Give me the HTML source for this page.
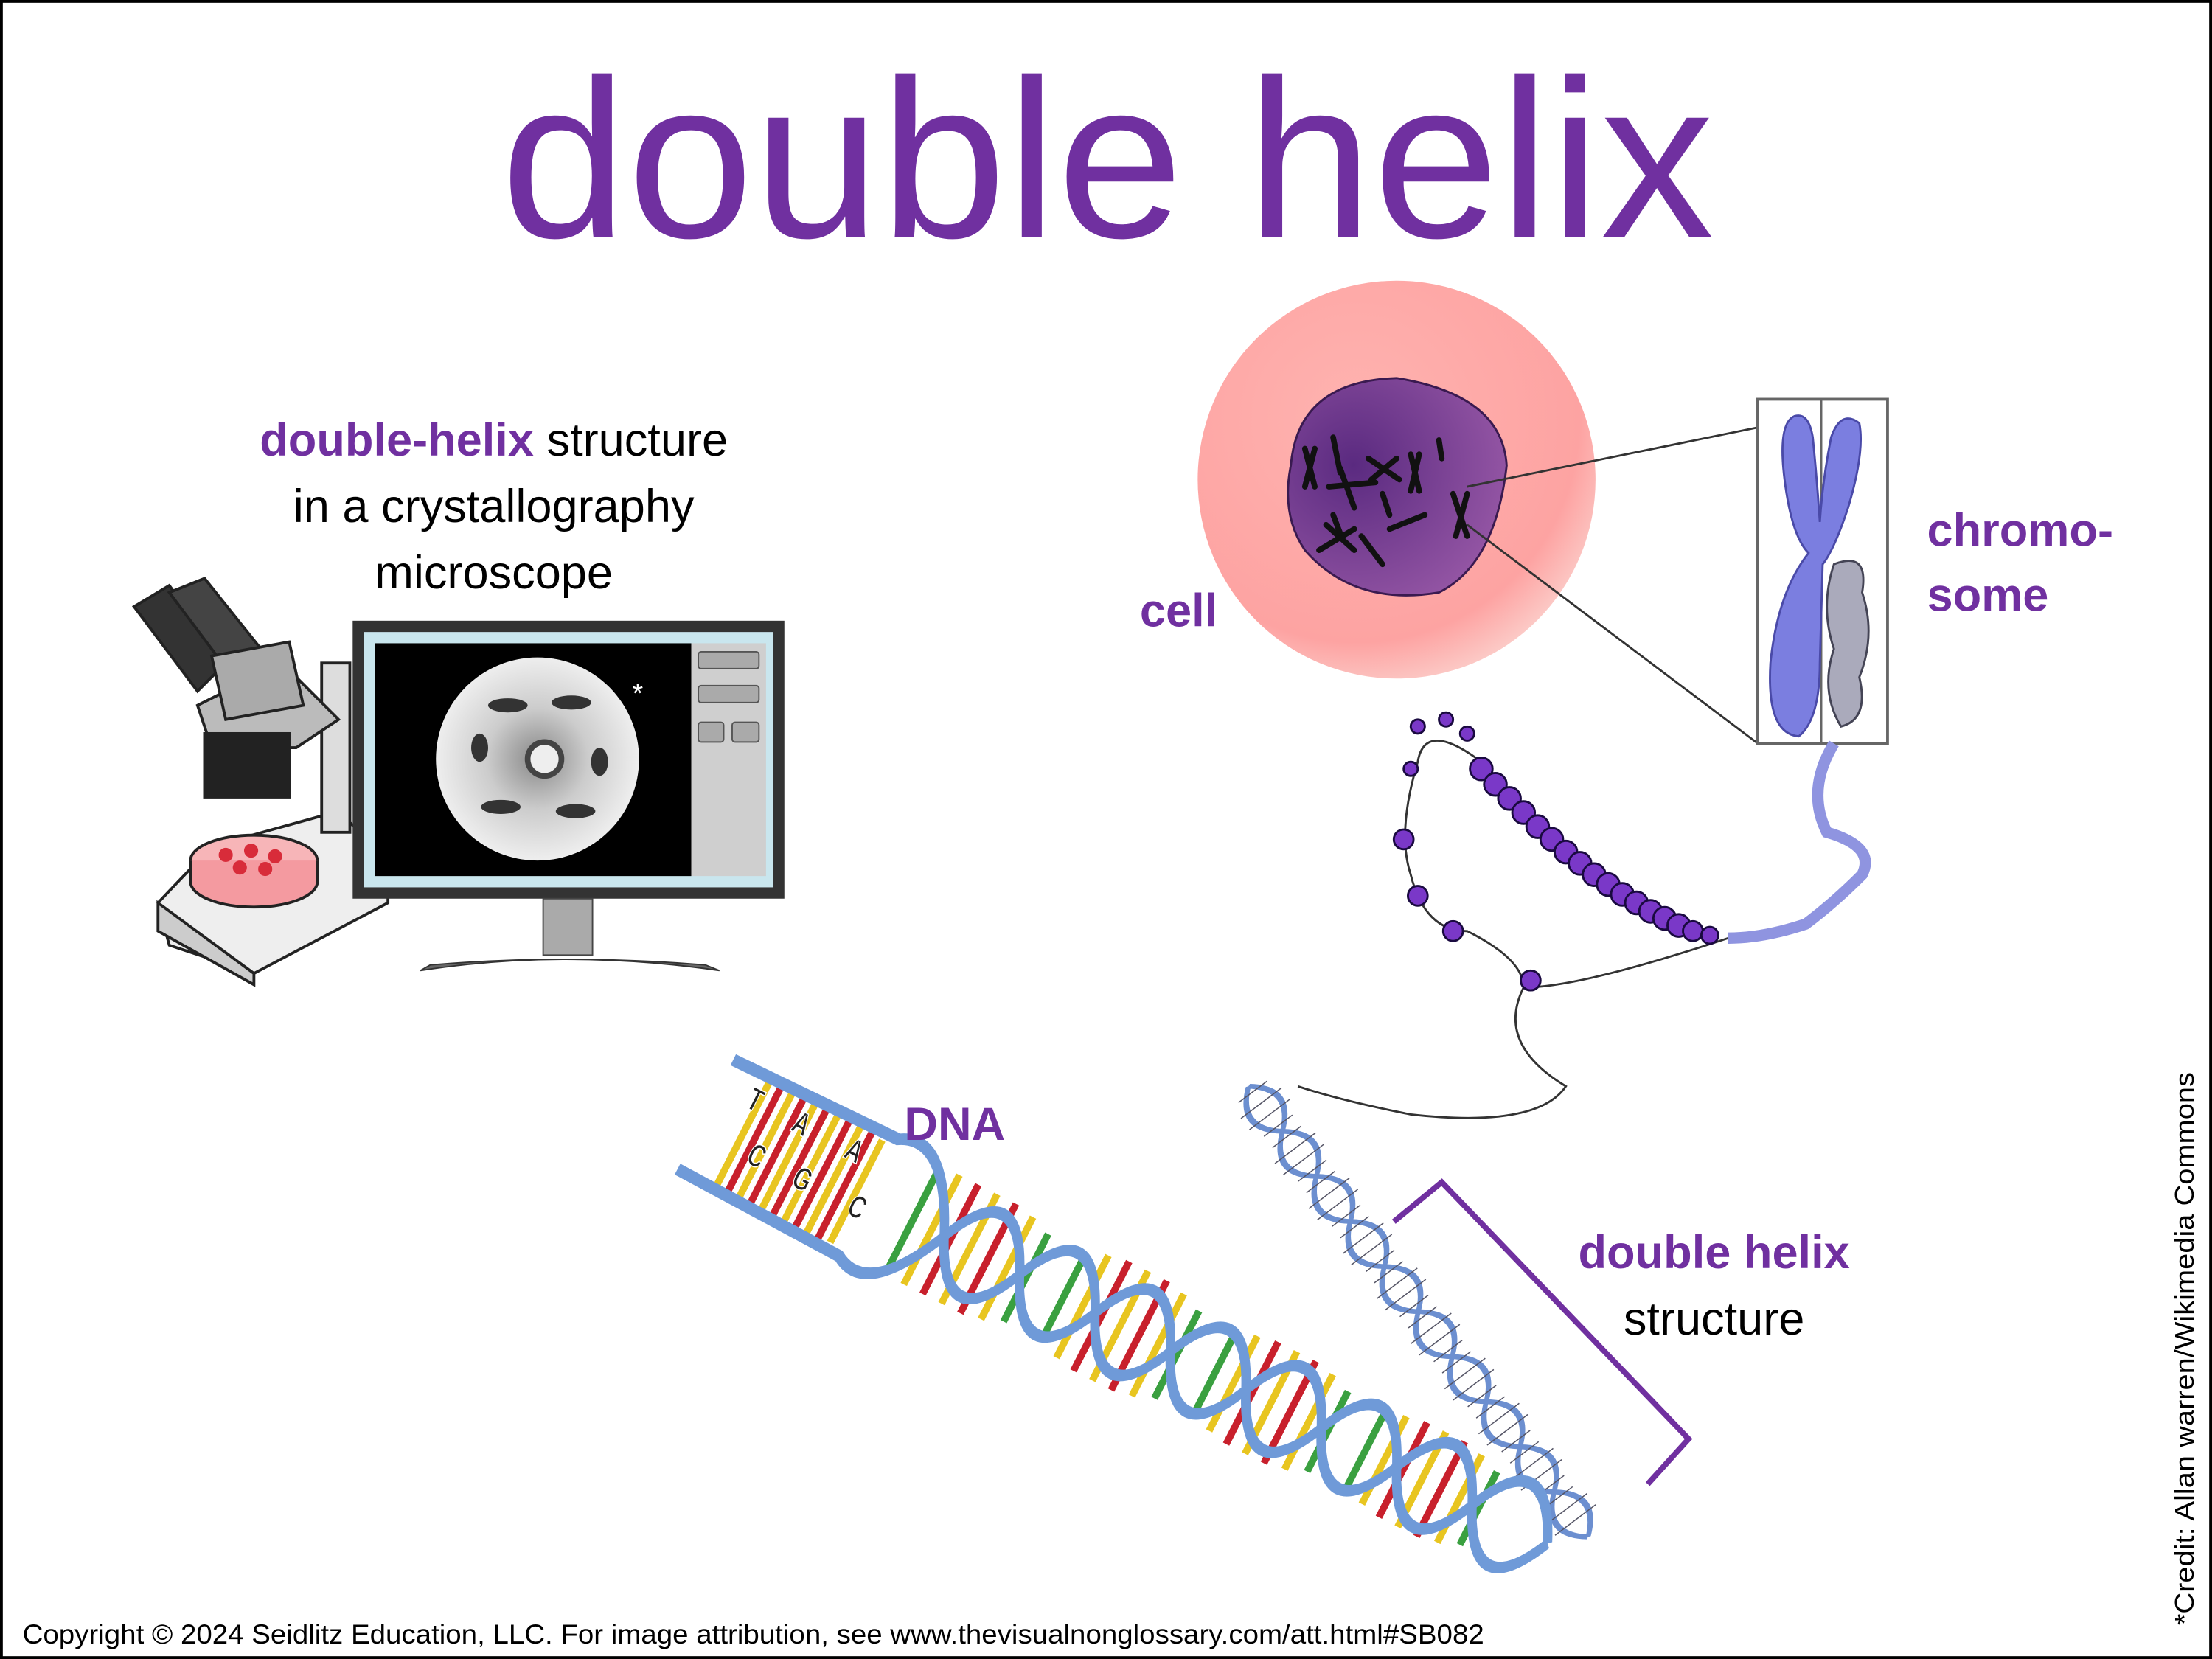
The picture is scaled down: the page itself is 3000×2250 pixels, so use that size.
<!DOCTYPE html>
<html><head><meta charset="utf-8"><style>
html,body{margin:0;padding:0;background:#fff}
svg{display:block}
text{font-family:"Liberation Sans",sans-serif}
</style></head><body>
<svg width="3000" height="2250" viewBox="0 0 1568 1176" xmlns="http://www.w3.org/2000/svg">
<defs>
<radialGradient id="cellg" cx="0.4" cy="0.35" r="0.7">
<stop offset="0" stop-color="#ffb3b0"/><stop offset="0.8" stop-color="#fda3a2"/><stop offset="1" stop-color="#fcd0cc"/></radialGradient>
<radialGradient id="nucg" cx="0.3" cy="0.4" r="0.8">
<stop offset="0" stop-color="#5a2a80"/><stop offset="1" stop-color="#9a5aa8"/></radialGradient>
<radialGradient id="xr" cx="0.5" cy="0.5" r="0.5">
<stop offset="0" stop-color="#888"/><stop offset="0.5" stop-color="#ccc"/><stop offset="1" stop-color="#eee"/></radialGradient>
</defs>
<rect x="1" y="1" width="1566" height="1174" fill="#fff" stroke="#000" stroke-width="2"/>

<text x="785" y="168" font-size="160" fill="#7030A0" text-anchor="middle" textLength="860" lengthAdjust="spacingAndGlyphs">double helix</text>

<text x="350" y="323" font-size="33" text-anchor="middle"><tspan fill="#7030A0" font-weight="bold">double-helix</tspan> structure</text>
<text x="350" y="370" font-size="33" text-anchor="middle">in a crystallography</text>
<text x="350" y="417" font-size="33" text-anchor="middle">microscope</text>

<!-- microscope -->
<g stroke="#222" stroke-width="2">
<path d="M112 640 L150 600 L240 575 L275 610 L275 640 L180 690 L120 670 Z" fill="#eee"/>
<path d="M112 640 L180 690 L180 698 L112 660 Z" fill="#ccc"/>
<rect x="228" y="470" width="20" height="120" fill="#ddd"/>
<path d="M140 500 L200 470 L240 510 L210 530 L150 530 Z" fill="#bbb"/>
<rect x="145" y="520" width="60" height="45" fill="#222"/>
<path d="M95 430 L120 415 L160 470 L140 490 Z" fill="#333"/>
<path d="M120 420 L145 410 L185 460 L165 480 Z" fill="#444"/>
<path d="M150 465 L205 455 L215 500 L160 510 Z" fill="#aaa"/>
<ellipse cx="180" cy="610" rx="45" ry="18" fill="#f7b5b8"/>
<path d="M135 610 L135 625 A45 18 0 0 0 225 625 L225 610" fill="#f49aa0"/>
</g>
<g fill="#d82c3a"><circle cx="160" cy="606" r="5"/><circle cx="178" cy="603" r="5"/><circle cx="195" cy="607" r="5"/><circle cx="170" cy="615" r="5"/><circle cx="188" cy="616" r="5"/></g>

<!-- monitor -->
<rect x="250" y="440" width="306" height="197" fill="#333"/>
<rect x="258" y="448" width="290" height="181" fill="#c9e6ee"/>
<rect x="266" y="456" width="224" height="165" fill="#000"/>
<rect x="490" y="456" width="53" height="165" fill="#cfcfcf"/>
<rect x="495" y="462" width="43" height="12" rx="2" fill="#aaa" stroke="#555"/>
<rect x="495" y="486" width="43" height="12" rx="2" fill="#aaa" stroke="#555"/>
<rect x="495" y="512" width="18" height="14" rx="2" fill="#aaa" stroke="#555"/>
<rect x="519" y="512" width="19" height="14" rx="2" fill="#aaa" stroke="#555"/>
<circle cx="381" cy="538" r="72" fill="url(#xr)"/>
<g fill="#333"><ellipse cx="360" cy="500" rx="14" ry="5"/><ellipse cx="405" cy="498" rx="14" ry="5"/><ellipse cx="355" cy="572" rx="14" ry="5"/><ellipse cx="408" cy="575" rx="14" ry="5"/><ellipse cx="340" cy="530" rx="6" ry="10"/><ellipse cx="425" cy="540" rx="6" ry="10"/></g>
<circle cx="386" cy="538" r="12" fill="#eee" stroke="#444" stroke-width="4"/>
<text x="452" y="498" font-size="20" fill="#fff" text-anchor="middle">*</text>
<path d="M385 637 L420 637 L420 677 L385 677 Z" fill="#aaa" stroke="#444"/>
<path d="M298 688 Q400 672 510 688 L500 684 Q400 676 305 684 Z" fill="#666" stroke="#333"/>

<!-- cell -->
<circle cx="990" cy="340" r="141" fill="url(#cellg)"/>
<path d="M915 330 Q920 270 990 268 Q1065 280 1068 330 Q1060 400 1020 420 Q960 430 925 390 Q908 365 915 330 Z" fill="url(#nucg)" stroke="#3a1a50" stroke-width="1.5"/>
<g stroke="#111" stroke-width="4" stroke-linecap="round">
<path d="M925 318 L932 345 M932 318 L925 345"/><path d="M945 310 L950 335"/><path d="M942 345 L975 342"/><path d="M950 332 L960 360"/>
<path d="M970 325 L992 340 M972 340 L990 325"/><path d="M1000 322 L1006 348 M1006 322 L1000 348"/><path d="M1020 312 L1022 325"/>
<path d="M935 390 L960 375 M960 390 L940 372"/><path d="M965 380 L980 400"/><path d="M985 375 L1010 365"/><path d="M1030 350 L1040 380 M1040 350 L1032 380"/>
<path d="M980 350 L985 365"/><path d="M945 365 L950 378"/>
</g>
<text x="808" y="444" font-size="33" font-weight="bold" fill="#7030A0">cell</text>

<!-- chromosome box -->
<line x1="1040" y1="345" x2="1246" y2="303" stroke="#333" stroke-width="1.5"/>
<line x1="1040" y1="372" x2="1246" y2="527" stroke="#333" stroke-width="1.5"/>
<rect x="1246" y="283" width="92" height="244" fill="none" stroke="#666" stroke-width="2"/>
<line x1="1291" y1="283" x2="1291" y2="527" stroke="#666" stroke-width="1.5"/>
<path d="M1272 295 Q1260 300 1265 340 Q1270 380 1282 392 Q1260 420 1255 470 Q1252 520 1275 522 Q1290 510 1290 470 L1292 400 Q1300 390 1310 360 Q1322 320 1318 300 Q1305 290 1298 310 Q1292 340 1290 370 Q1288 340 1285 310 Q1282 292 1272 295 Z" fill="#7b7ee0" stroke="#4a4aa8" stroke-width="1.5"/>
<path d="M1300 400 Q1325 390 1320 420 Q1330 450 1318 480 Q1325 510 1305 515 Q1290 490 1300 460 Q1290 430 1300 400 Z" fill="#aab" stroke="#445" stroke-width="1.5"/>
<text x="1366" y="387" font-size="33" font-weight="bold" fill="#7030A0">chromo-</text>
<text x="1366" y="433" font-size="33" font-weight="bold" fill="#7030A0">some</text>

<!-- chromatin -->
<path d="M1300 527 Q1280 560 1295 590 Q1330 600 1320 620 Q1300 640 1280 655 Q1250 665 1225 665" fill="none" stroke="#8f94e0" stroke-width="8"/>
<path d="M1225 665 Q1120 700 1080 700 Q1060 740 1110 770 Q1090 800 1000 790 Q950 780 920 770" fill="none" stroke="#333" stroke-width="1.5"/>
<path d="M1050 540 Q1010 510 1005 540 Q990 590 1000 620 Q1010 660 1040 660 Q1080 680 1080 700" fill="none" stroke="#333" stroke-width="1.5"/>
<g fill="#7a38c8" stroke="#1a0a40" stroke-width="1.5">
<circle cx="1050" cy="545" r="8"/><circle cx="1060" cy="556" r="8"/><circle cx="1070" cy="566" r="8"/><circle cx="1080" cy="576" r="8"/><circle cx="1090" cy="586" r="8"/><circle cx="1100" cy="595" r="8"/><circle cx="1110" cy="604" r="8"/><circle cx="1120" cy="612" r="8"/><circle cx="1130" cy="620" r="8"/><circle cx="1140" cy="627" r="8"/><circle cx="1150" cy="634" r="8"/><circle cx="1160" cy="640" r="8"/><circle cx="1170" cy="646" r="8"/><circle cx="1180" cy="651" r="8"/><circle cx="1190" cy="656" r="8"/><circle cx="1200" cy="660" r="7"/><circle cx="1212" cy="663" r="6"/>
<circle cx="1005" cy="515" r="5"/><circle cx="1025" cy="510" r="5"/><circle cx="1040" cy="520" r="5"/><circle cx="1000" cy="545" r="5"/><circle cx="995" cy="595" r="7"/><circle cx="1005" cy="635" r="7"/><circle cx="1030" cy="660" r="7"/><circle cx="1085" cy="695" r="7"/>
</g>

<!-- upper thin helix -->
<g transform="translate(885,770) rotate(53) scale(1,1.8)" fill="none">
<path d="M0 0 Q20 -14 40 0 T80 0 T120 0 T160 0 T200 0 T240 0 T280 0 T320 0 T360 0 T400 0" stroke="#6c8fd0" stroke-width="2.5"/>
<path d="M0 0 Q20 14 40 0 T80 0 T120 0 T160 0 T200 0 T240 0 T280 0 T320 0 T360 0 T400 0" stroke="#6c8fd0" stroke-width="2.5"/>
<path d="M5 -7V7M15 -10V10M25 -10V10M35 -7V7M45 -7V7M55 -10V10M65 -10V10M75 -7V7M85 -7V7M95 -10V10M105 -10V10M115 -7V7M125 -7V7M135 -10V10M145 -10V10M155 -7V7M165 -7V7M175 -10V10M185 -10V10M195 -7V7M205 -7V7M215 -10V10M225 -10V10M235 -7V7M245 -7V7M255 -10V10M265 -10V10M275 -7V7M285 -7V7M295 -10V10M305 -10V10M315 -7V7M325 -7V7M335 -10V10M345 -10V10M355 -7V7M365 -7V7M375 -10V10M385 -10V10" stroke="#556" stroke-width="0.8"/>
</g>

<!-- main DNA -->
<g transform="translate(500,790) rotate(27) scale(1,1.45)">
<g stroke-width="5">
<path d="M30 -28V28M48 -30V30M66 -30V30M84 -30V30M102 -30V30M120 -28V28M180 -30V30M210 -30V30M240 -28V28M300 -28V28M330 -30V30M360 -28V28M420 -26V26M450 -28V28M480 -26V26M540 -24V24M570 -26V26M600 -24V24" stroke="#e8c520"/>
<path d="M39 -30V30M57 -30V30M75 -30V30M93 -30V30M111 -30V30M195 -30V30M225 -30V30M315 -30V30M345 -30V30M435 -28V28M465 -28V28M555 -26V26M585 -26V26" stroke="#c8202c"/>
<path d="M165 -28V28M255 -24V24M285 -24V24M375 -24V24M405 -24V24M495 -22V22M525 -22V22M615 -20V20" stroke="#3aa040"/>
</g>
<path d="M0 -30 L130 -32 Q160 -45 190 0 T250 0 T310 0 T370 0 T430 0 T490 0 T550 0 T610 0 T670 0" fill="none" stroke="#6f9ad8" stroke-width="6"/>
<path d="M0 30 L130 32 Q160 45 190 0 T250 0 T310 0 T370 0 T430 0 T490 0 T550 0 T610 0 T670 0" fill="none" stroke="#6f9ad8" stroke-width="6"/>
<g font-size="16" font-weight="bold" fill="#222" stroke="#fff" stroke-width="0.6">
<text x="22" y="-12">T</text><text x="58" y="-12">A</text><text x="40" y="12">C</text><text x="76" y="12">G</text><text x="100" y="-12">A</text><text x="120" y="12">C</text>
</g>
</g>
<text x="641" y="808" font-size="33" font-weight="bold" fill="#7030A0">DNA</text>

<!-- bracket -->
<path d="M988 866 L1022 838 L1197 1020 L1168 1052" fill="none" stroke="#7030A0" stroke-width="4"/>
<text x="1215" y="899" font-size="33" font-weight="bold" fill="#7030A0" text-anchor="middle">double helix</text>
<text x="1215" y="946" font-size="33" text-anchor="middle">structure</text>

<text x="16" y="1165" font-size="19.5" textLength="1036" lengthAdjust="spacingAndGlyphs">Copyright © 2024 Seidlitz Education, LLC.  For image attribution, see www.thevisualnonglossary.com/att.html#SB082</text>
<text transform="translate(1555,1152) rotate(-90)" font-size="19" textLength="392" lengthAdjust="spacingAndGlyphs">*Credit: Allan warren/Wikimedia Commons</text>
</svg>
</body></html>
